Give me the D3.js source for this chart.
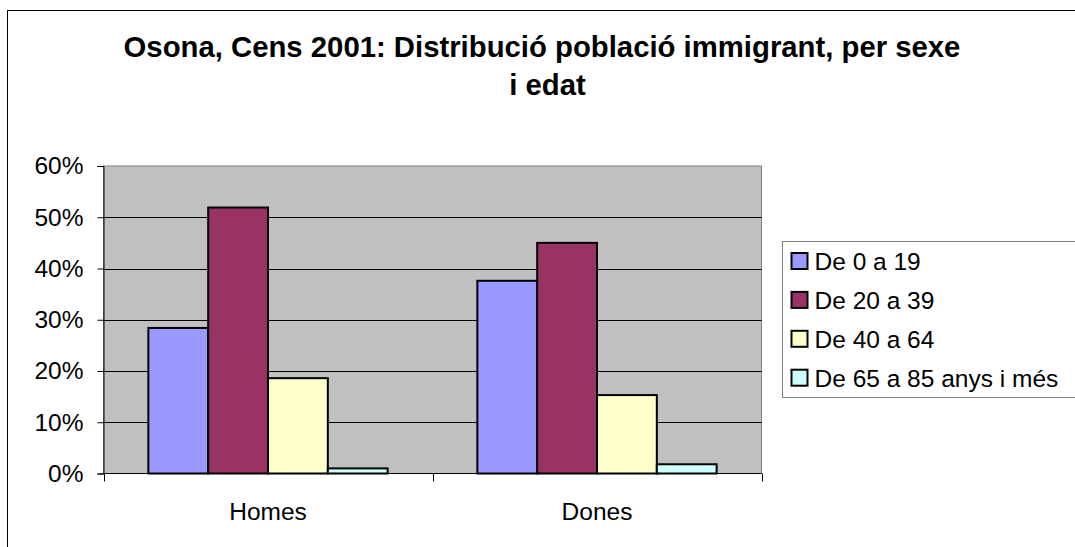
<!DOCTYPE html>
<html>
<head>
<meta charset="utf-8">
<script src="https://cdn.jsdelivr.net/npm/d3@7"></script>
<style>
  body { margin: 0; background: #fff; }
  svg { display: block; font-family: "Liberation Sans", Arial, sans-serif; }
</style>
</head>
<body>
<svg id="chart" width="1075" height="547"></svg>
<script>
// data
var categories = ["Homes", "Dones"];
var series = ["De 0 a 19", "De 20 a 39", "De 40 a 64", "De 65 a 85 anys i més"];
var values = [
  [28.4, 51.9, 18.6, 1.0],   // Homes
  [37.6, 45.0, 15.3, 1.8]    // Dones
];
var yTicks = [0, 10, 20, 30, 40, 50, 60];
var colors = ["#9999FF", "#993366", "#FFFFCC", "#CCFFFF"];
var titleLines = ["Osona, Cens 2001: Distribució població immigrant, per sexe", "i edat"];

var svg = d3.select("#chart");

// outer frame (runs off the right and bottom edges)
svg.append("rect")
  .attr("x", 7.5).attr("y", 10.5)
  .attr("width", 1100).attr("height", 560)
  .attr("fill", "#fff").attr("stroke", "#000");

// title
svg.append("text")
  .attr("x", 542).attr("y", 56.5)
  .attr("text-anchor", "middle")
  .attr("font-size", 29.3).attr("font-weight", "bold")
  .text(titleLines[0]);
svg.append("text")
  .attr("x", 547.5).attr("y", 95)
  .attr("text-anchor", "middle")
  .attr("font-size", 29.3).attr("font-weight", "bold")
  .text(titleLines[1]);

var plot = { left: 103.5, right: 761.5, top: 166, bottom: 473.5 };

var y = d3.scaleLinear().domain([0, 60]).range([plot.bottom, plot.top]);
var x0 = d3.scaleBand().domain(categories).range([plot.left, plot.right]);
// gap width 150%: group of 4 bars = 4/(4+1.5) of the band
var groupW = x0.bandwidth() * 4 / 5.5;
var x1 = d3.scaleBand().domain(series).range([0, groupW]);

// plot area
svg.append("rect")
  .attr("x", plot.left).attr("y", plot.top)
  .attr("width", plot.right - plot.left).attr("height", plot.bottom - plot.top)
  .attr("fill", "#C0C0C0").attr("stroke", "#808080");

// gridlines
svg.append("g").selectAll("line")
  .data(yTicks.filter(function(d){ return d > 0 && d < 60; }))
  .join("line")
  .attr("x1", plot.left).attr("x2", plot.right)
  .attr("y1", function(d){ return Math.round(y(d)) + 0.5; })
  .attr("y2", function(d){ return Math.round(y(d)) + 0.5; })
  .attr("stroke", "#000");

// bars
var groups = svg.append("g").selectAll("g")
  .data(categories)
  .join("g")
  .attr("transform", function(d){ return "translate(" + (x0(d) + (x0.bandwidth() - groupW) / 2) + ",0)"; });

groups.selectAll("rect")
  .data(function(d, i){ return values[i].map(function(v, j){ return { s: series[j], v: v, c: colors[j] }; }); })
  .join("rect")
  .attr("x", function(d){ return x1(d.s); })
  .attr("width", x1.bandwidth())
  .attr("y", function(d){ return y(d.v); })
  .attr("height", function(d){ return y(0) - y(d.v); })
  .attr("fill", function(d){ return d.c; })
  .attr("stroke", "#000").attr("stroke-width", 2);

// y axis
var yAxis = d3.axisLeft(y).tickValues(yTicks)
  .tickFormat(function(d){ return d + "%"; })
  .tickSize(6).tickPadding(14);
var gy = svg.append("g").attr("transform", "translate(" + plot.left + ",0)").call(yAxis);
gy.select(".domain").attr("stroke", "#000");
gy.selectAll(".tick line").attr("stroke", "#000");
gy.selectAll(".tick text").attr("font-size", 24.5).attr("fill", "#000")
  .attr("font-family", "Liberation Sans, Arial, sans-serif");

// x axis: ticks at category boundaries
svg.append("line")
  .attr("x1", plot.left).attr("x2", plot.right)
  .attr("y1", plot.bottom).attr("y2", plot.bottom)
  .attr("stroke", "#000");
var bounds = [plot.left].concat(categories.map(function(c){ return x0(c) + x0.bandwidth(); }));
svg.append("g").selectAll("line")
  .data(bounds)
  .join("line")
  .attr("x1", function(d){ return Math.round(d) + 0.5; })
  .attr("x2", function(d){ return Math.round(d) + 0.5; })
  .attr("y1", plot.bottom).attr("y2", plot.bottom + 8)
  .attr("stroke", "#000");
svg.append("g").selectAll("text")
  .data(categories)
  .join("text")
  .attr("x", function(d){ return x0(d) + x0.bandwidth() / 2; })
  .attr("y", 520)
  .attr("text-anchor", "middle")
  .attr("font-size", 24.5)
  .text(function(d){ return d; });

// legend
var legend = svg.append("g").attr("transform", "translate(782.5,241.5)");
legend.append("rect")
  .attr("width", 320).attr("height", 156)
  .attr("fill", "#fff").attr("stroke", "#808080");
var items = legend.selectAll("g")
  .data(series)
  .join("g")
  .attr("transform", function(d, i){ return "translate(0," + (20 + i * 38.9) + ")"; });
items.append("rect")
  .attr("x", 9).attr("y", -8.5)
  .attr("width", 16).attr("height", 16)
  .attr("fill", function(d, i){ return colors[i]; })
  .attr("stroke", "#000").attr("stroke-width", 2);
items.append("text")
  .attr("x", 32).attr("y", 8.5)
  .attr("font-size", 24.5)
  .text(function(d){ return d; });
</script>
</body>
</html>
